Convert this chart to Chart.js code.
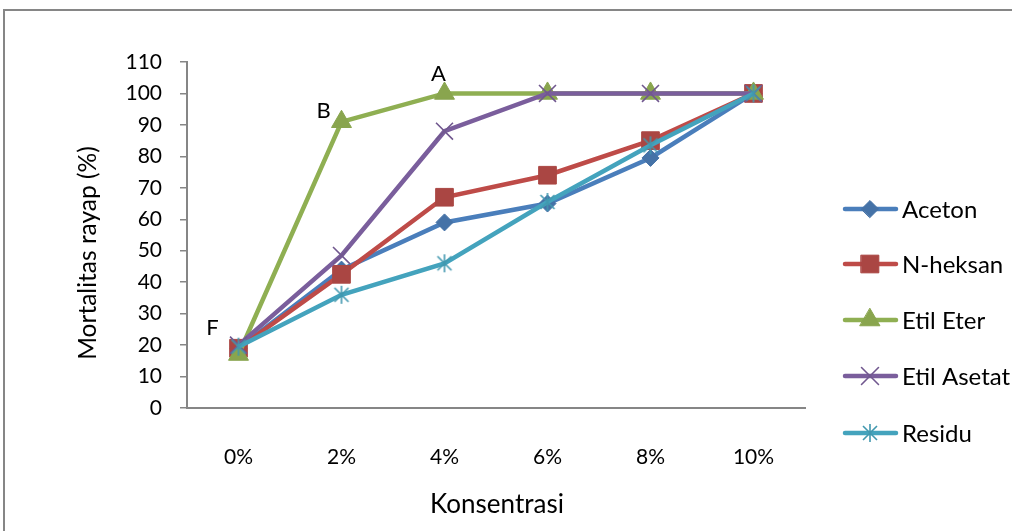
<!DOCTYPE html>
<html><head><meta charset="utf-8">
<script src="https://cdn.jsdelivr.net/npm/chart.js@4"></script>
<style>html,body{margin:0;padding:0;background:#fff;overflow:hidden}#wrap{position:relative;width:1012px;height:531px}</style>
</head><body><div id="wrap"><canvas id="c" width="1012" height="531"></canvas></div>
<script>
// ---- data ----
const categories = ['0%', '2%', '4%', '6%', '8%', '10%'];
const seriesNames = ['Aceton', 'N-heksan', 'Etil Eter', 'Etil Asetat', 'Residu'];
const aceton     = [19, 44, 59, 65, 79.5, 100];
const nHeksan    = [19, 42.5, 67, 74, 85, 100];
const etilEter   = [17, 91, 100, 100, 100, 100];
const etilAsetat = [20, 48.5, 88, 100, 100, 100];
const residu     = [19.5, 36, 46, 65.5, 83.5, 100];
const yMin = 0, yMax = 110, yStep = 10;
const xTitle = 'Konsentrasi';
const yTitle = 'Mortalitas rayap (%)';
const annotationTexts = ['F', 'B', 'A'];
const annotationSeries = [2, 2, 2];
const annotationIndex = [0, 1, 2];

// ---- styles ----
const FONT = "Lato, 'Open Sans', sans-serif";
const colors = ['#4572A7', '#AA4643', '#89A54E', '#71588F', '#4198AF'];
const lineColors = ['#4A7EBB', '#BE4B48', '#8FAF52', '#7A5E9C', '#44A3BD'];

function asteriskMarker(color) {
  const c = document.createElement('canvas');
  c.width = 22; c.height = 22;
  const g = c.getContext('2d');
  g.strokeStyle = color; g.lineWidth = 1.6;
  g.beginPath();
  g.moveTo(4, 4); g.lineTo(18, 18);
  g.moveTo(18, 4); g.lineTo(4, 18);
  g.moveTo(11, 2); g.lineTo(11, 20);
  g.stroke();
  return c;
}
const residuMarker = asteriskMarker(colors[4]);

const pointStyles = ['rectRot', 'rect', 'triangle', 'crossRot', residuMarker];
const pointRadii = [8.5, 12.5, 11.5, 12, 10];
const pointBorderW = [1, 1, 1, 1.6, 1.6];
const allSeries = [aceton, nHeksan, etilEter, etilAsetat, residu];

const datasets = allSeries.map((d, i) => ({
  label: seriesNames[i],
  data: d,
  borderColor: lineColors[i],
  backgroundColor: colors[i],
  borderWidth: 4.5,
  pointStyle: pointStyles[i],
  pointRadius: pointRadii[i],
  pointHoverRadius: pointRadii[i],
  pointBackgroundColor: colors[i],
  pointBorderColor: colors[i],
  pointBorderWidth: pointBorderW[i],
  tension: 0,
  order: allSeries.length - 1 - i
}));

const annotationOffsets = [[-26, -27], [-18, -11], [-6, -20]];

const decorPlugin = {
  id: 'decor',
  beforeDraw(chart) {
    const ctx = chart.ctx;
    ctx.save();
    ctx.fillStyle = '#fff';
    ctx.fillRect(0, 0, chart.width, chart.height);
    ctx.strokeStyle = '#868686';
    ctx.lineWidth = 2;
    ctx.strokeRect(4, 10, 1100, 600);
    ctx.restore();
  },
  afterDraw(chart) {
    const ctx = chart.ctx;
    ctx.save();
    ctx.fillStyle = '#000';
    ctx.textAlign = 'center';
    ctx.textBaseline = 'middle';
    // axis titles
    ctx.font = '26px ' + FONT;
    ctx.fillText(xTitle, 497, 505);
    ctx.font = '24.5px ' + FONT;
    ctx.save();
    ctx.translate(88, 253);
    ctx.rotate(-Math.PI / 2);
    ctx.fillText(yTitle, 0, 0);
    ctx.restore();
    // annotations
    ctx.font = '22px ' + FONT;
    annotationTexts.forEach((t, k) => {
      const el = chart.getDatasetMeta(annotationSeries[k]).data[annotationIndex[k]];
      ctx.fillText(t, el.x + annotationOffsets[k][0], el.y + annotationOffsets[k][1]);
    });
    // legend
    const ys = [209, 264, 320, 376, 433];
    ctx.textAlign = 'left';
    ctx.font = '24px ' + FONT;
    chart.data.datasets.forEach((ds, i) => {
      const y = ys[i];
      ctx.strokeStyle = ds.borderColor;
      ctx.lineWidth = ds.borderWidth;
      ctx.lineCap = 'round';
      ctx.beginPath();
      ctx.moveTo(845, y); ctx.lineTo(896, y);
      ctx.stroke();
      ctx.fillStyle = ds.pointBackgroundColor;
      ctx.strokeStyle = ds.pointBorderColor;
      ctx.lineWidth = ds.pointBorderWidth;
      Chart.helpers.drawPoint(ctx, {pointStyle: ds.pointStyle, radius: ds.pointRadius, rotation: 0, borderWidth: ds.pointBorderWidth}, 870, y);
      ctx.fillStyle = '#000';
      ctx.fillText(ds.label, 902, y + 1);
    });
    ctx.restore();
  }
};

new Chart(document.getElementById('c'), {
  type: 'line',
  data: { labels: categories, datasets },
  options: {
    responsive: false,
    animation: false,
    devicePixelRatio: 1,
    layout: { padding: { top: 62, right: 207, left: 0, bottom: 0 } },
    plugins: { legend: { display: false }, tooltip: { enabled: false } },
    scales: {
      x: {
        offset: true,
        grid: { display: false },
        border: { display: true, color: '#868686', width: 2 },
        ticks: { color: '#000', font: { family: FONT, size: 21 }, padding: 29, maxRotation: 0 },
        afterFit(s) { s.height = 123; }
      },
      y: {
        min: yMin, max: yMax,
        grid: { drawOnChartArea: false, drawTicks: true, tickLength: 7, color: '#868686', lineWidth: 1.5 },
        border: { display: true, color: '#868686', width: 2 },
        ticks: { stepSize: yStep, color: '#000', font: { family: FONT, size: 21 }, padding: 18 },
        afterFit(s) { s.width = 187; }
      }
    }
  },
  plugins: [decorPlugin]
});
</script>
</body></html>
